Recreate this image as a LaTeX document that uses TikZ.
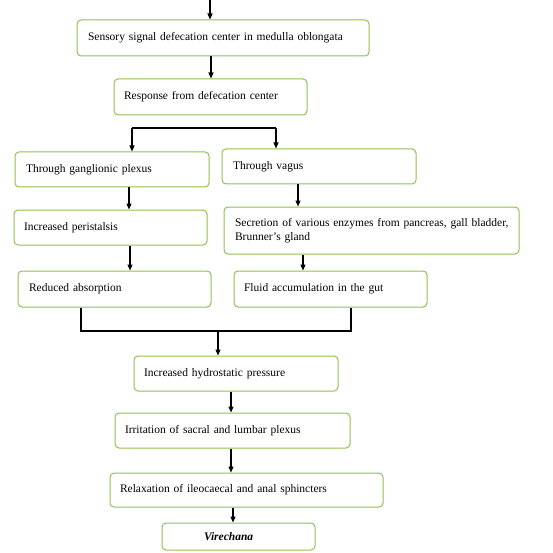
\documentclass[tikz,border=0pt]{standalone}
\usepackage{fontspec}
\setmainfont{Liberation Serif}
\usetikzlibrary{arrows.meta}
\definecolor{boxgreen}{RGB}{146,192,80}
\tikzset{
  box/.style={draw=boxgreen, line width=1pt, rounded corners=4pt, align=left,
    inner ysep=0pt, font=\fontsize{11.5}{14.5}\selectfont, fill=white},
  arr/.style={draw=black, line width=1.3pt, -{Triangle[length=6pt,width=5pt]}},
  ln/.style={draw=black, line width=1.5pt}
}
\newcommand\bx[7]{%
  \pgfmathsetmacro\bw{#4-#2}\pgfmathsetmacro\bh{#5-#3}\pgfmathsetmacro\tw{#4-#2-2*#6}%
  \node[box, minimum width=\bw pt, minimum height=\bh pt, text width=\tw pt, inner xsep=#6pt]
    (#1) at ({(#2+#4)/2},{(#3+#5)/2}) {#7};}
\newcommand\conn[3]{\coordinate (x#1) at (#3,0);
  \draw[arr] (#1.south -| x#1) -- (#2.north -| x#1);}
\begin{document}
\begin{tikzpicture}[x=1pt,y=-1pt]
\useasboundingbox (0,0) rectangle (552,553);
\bx{b1}{77}{20}{369}{56}{11}{Sensory signal defecation center in medulla oblongata}
\bx{b2}{114}{79}{307}{115}{10}{Response from defecation center}
\bx{b3}{15}{152}{209}{187}{11}{Through ganglionic plexus}
\bx{b4}{222}{149}{416}{184}{11}{Through vagus}
\bx{b5}{14}{210}{207}{245}{10}{Increased peristalsis}
\bx{b6}{224}{207}{519}{254}{11}{\mbox{Secretion of various enzymes from pancreas, gall bladder,}\\ Brunner's gland}
\bx{b7}{18}{271}{211}{307}{11}{Reduced absorption}
\bx{b8}{234}{271}{427}{307}{10}{Fluid accumulation in the gut}
\bx{b9}{134}{356}{338}{391}{10}{Increased hydrostatic pressure}
\bx{b10}{115}{413}{350}{448}{10}{Irritation of sacral and lumbar plexus}
\bx{b11}{110}{473}{383}{507}{10}{Relaxation of ileocaecal and anal sphincters}
\bx{b12}{162}{523}{315}{550}{42}{\textbf{\textit{Virechana}}}
% top arrow
\coordinate (top) at (210,0);
\draw[arr] (top) -- (top |- b1.north);
\conn{b1}{b2}{211}
% branch
\coordinate (brL) at (132,128);
\coordinate (brR) at (276,128);
\draw[ln] (brL) -- (brR);
\draw[arr] (brL) -- (brL |- b3.north);
\draw[arr] (brR) -- (brR |- b4.north);
\conn{b3}{b5}{129}
\conn{b4}{b6}{298}
\conn{b5}{b7}{130}
\conn{b6}{b8}{303}
% merge
\coordinate (mL) at (81,331);
\coordinate (mR) at (351,331);
\coordinate (mC) at (218,331);
\draw[ln] (mL |- b7.south) -- (mL) -- (mR) -- (mR |- b8.south);
\draw[arr] (mC) -- (mC |- b9.north);
\conn{b9}{b10}{231}
\conn{b10}{b11}{231}
\conn{b11}{b12}{233}
\end{tikzpicture}
\end{document}
